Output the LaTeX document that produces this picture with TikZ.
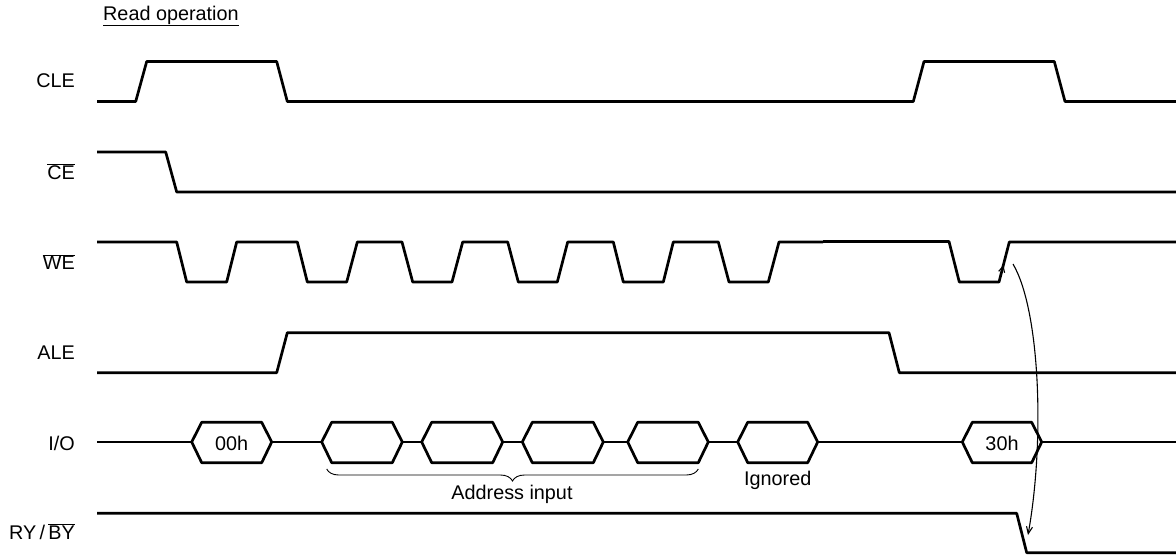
\documentclass[tikz,border=0pt]{standalone}
\usepackage{fontspec}
\setmainfont{Liberation Sans}
\usetikzlibrary{arrows.meta,decorations.pathreplacing}
\newcommand\ovl[1]{\ensuremath{\overline{\mbox{#1}}}}
\begin{document}
\begin{tikzpicture}[x=1pt,y=-1pt,
  wave/.style={line width=2.7pt,line join=round},
  siglabel/.style={anchor=east,inner sep=0pt,font=\fontsize{19.8}{22}\selectfont},
  txt/.style={inner sep=0pt,font=\fontsize{19.8}{22}\selectfont},
  thinarrow/.style={line width=1.1pt},
  bracestyle/.style={line width=0.9pt,decorate,decoration={brace,mirror,amplitude=12pt}}]
\useasboundingbox (0,0) rectangle (1176,557);
% title
\node[txt,anchor=west] (title) at (103,16) {\underline{Read operation}};
% labels
\node[siglabel] (lcle) at (75,81) {CLE};
\node[siglabel] (lce) at (75,172) {\ovl{CE}};
\node[siglabel] (lwe) at (75,262) {\ovl{WE}};
\node[siglabel] (lale) at (75,352.7) {ALE};
\node[siglabel] (lio) at (75,443) {I/O};
\node[siglabel] (lry) at (75,532) {RY\,/\,\ovl{BY}};
% CLE
\draw[wave] (97,101.5) -- (135.7,101.5) -- (146.7,61.5) -- (276.7,61.5) -- (287.3,101.5) -- (913.3,101.5) -- (924,61.5) -- (1054.3,61.5) -- (1065,101.5) -- (1176,101.5);
% CE
\draw[wave] (97,152) -- (165.7,152) -- (176.7,192) -- (1176,192);
% WE
\draw[wave] (97,242) -- (176.7,242) -- (186.7,282) -- (226.7,282) -- (236.7,242) -- (297.3,242) -- (307.3,282) -- (346.7,282) -- (357.3,242) -- (402,242) -- (412.7,282) -- (452,282) -- (462.7,242) -- (507.7,242) -- (518.3,282) -- (557.3,282) -- (567.7,242) -- (613.3,242) -- (623.3,282) -- (663.3,282) -- (673.3,242) -- (718.3,242) -- (729,282) -- (768.3,282) -- (779,242) -- (823,242);
\draw[wave] (823,241.5) -- (949,241.5) -- (959.3,282) -- (999,282) -- (1009.3,242) -- (1176,242);
% ALE
\draw[wave] (97,372.7) -- (276.7,372.7) -- (287.3,332.7) -- (889,332.7) -- (899.3,372.7) -- (1176,372.7);
% I/O line segments
\draw[wave] (97,442) -- (191.7,442);
\draw[wave] (271.7,442) -- (321.7,442);
\draw[wave] (402.3,442) -- (421.7,442);
\draw[wave] (502.7,442) -- (522.3,442);
\draw[wave] (603.3,442) -- (627.7,442);
\draw[wave] (708.3,442) -- (737.7,442);
\draw[wave] (817.7,442) -- (962.3,442);
\draw[wave] (1041.7,442) -- (1176,442);
% hexagons
\foreach \l/\r/\t/\n in {191.7/271.7/00h/h1, 321.7/402.3//h2, 421.7/502.7//h3, 522.3/603.3//h4, 627.7/708.3//h5, 737.7/817.7//h6, 962.3/1041.7/30h/h7}{
  \draw[wave] (\l,442) -- ({\l+10},422.3) -- ({\r-10},422.3) -- (\r,442) -- ({\r-10},462.7) -- ({\l+10},462.7) -- cycle;
  \node[txt] (\n) at ({(\l+\r)/2},443) {\t};
}
% brace
\coordinate (bl) at (326.7,469);
\coordinate (br) at (698.3,469);
\draw[bracestyle] (bl) -- (br);
\node[txt] (addr) at (512,494) {Address input};
\node[txt] (ign) at (777.7,480) {Ignored};
% RY/BY
\draw[wave] (97,513.3) -- (1016.7,513.3) -- (1026.7,552.7) -- (1176,552.7);
% timing arrow
\coordinate (wa) at (1001.4,273);
\coordinate (wb) at (1003.4,265);
\coordinate (c1) at (1013,264);
\coordinate (c2) at (1028,535);
\draw[thinarrow,-{Straight Barb[length=6pt,width=6pt]}] (wa) -- (wb);
\draw[thinarrow,-{Straight Barb[length=7pt,width=6pt]}] (c1) .. controls (1040,310) and (1045,440) .. (c2);
\end{tikzpicture}
\end{document}
